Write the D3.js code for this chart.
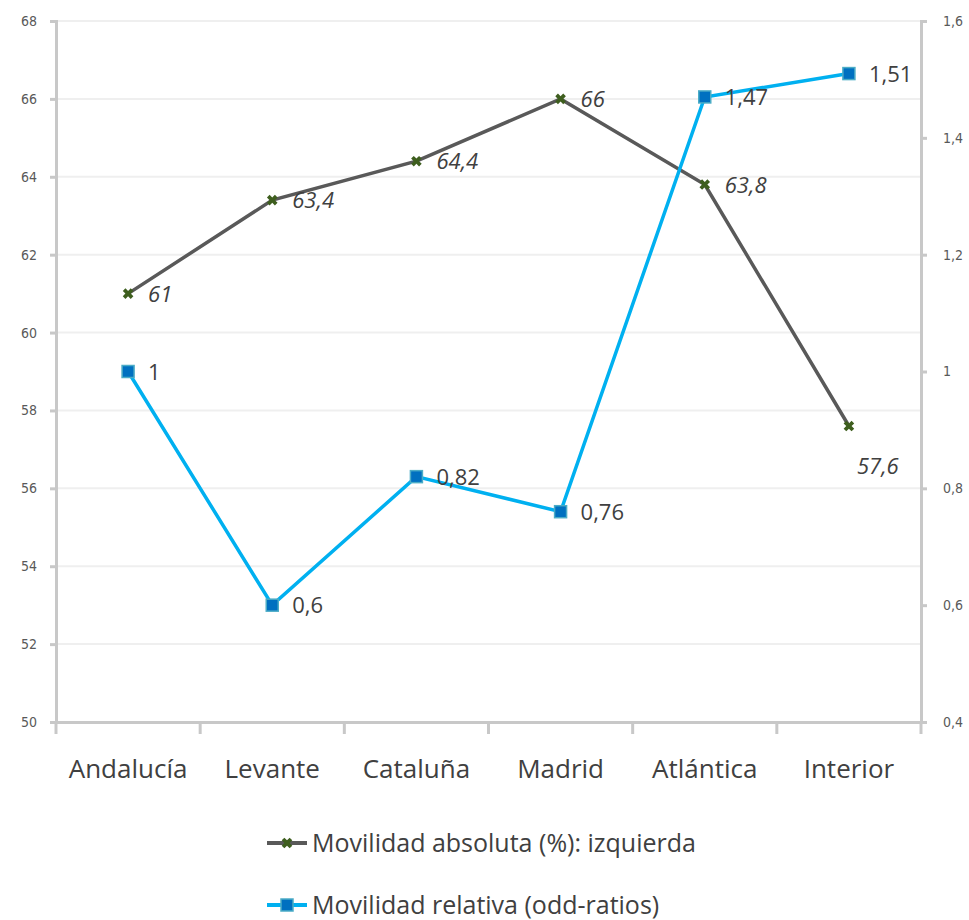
<!DOCTYPE html>
<html lang="es">
<head>
<meta charset="UTF-8">
<title>Movilidad</title>
<script src="https://cdnjs.cloudflare.com/ajax/libs/d3/7.8.5/d3.min.js"></script>
<style>
  body { margin: 0; background: #fff; }
  text { font-family: "Open Sans", "Liberation Sans", sans-serif; }
</style>
</head>
<body>
<div id="chart"></div>
<script>
var categories = ["Andalucía", "Levante", "Cataluña", "Madrid", "Atlántica", "Interior"];
var absoluta = [61, 63.4, 64.4, 66, 63.8, 57.6];
var relativa = [1, 0.6, 0.82, 0.76, 1.47, 1.51];
var leftTicks = [50, 52, 54, 56, 58, 60, 62, 64, 66, 68];
var rightTicks = [0.4, 0.6, 0.8, 1, 1.2, 1.4, 1.6];
var seriesNames = ["Movilidad absoluta (%): izquierda", "Movilidad relativa (odd-ratios)"];

var width = 969, height = 920;
var plotLeft = 56, plotRight = 921, plotTop = 21, plotBottom = 722;

var comma = function (v) { return String(+v.toFixed(2)).replace(".", ","); };

var svg = d3.select("#chart").append("svg")
    .attr("width", width)
    .attr("height", height);

var x = d3.scaleBand().domain(categories).range([plotLeft, plotRight]);
var yL = d3.scaleLinear().domain([50, 68]).range([plotBottom, plotTop]);
var yR = d3.scaleLinear().domain([0.4, 1.6]).range([plotBottom, plotTop]);

// gridlines
svg.append("g").selectAll("line")
    .data(leftTicks)
    .enter().append("line")
    .attr("x1", plotLeft).attr("x2", plotRight)
    .attr("y1", function (d) { return yL(d); })
    .attr("y2", function (d) { return yL(d); })
    .attr("stroke", "#efefef")
    .attr("stroke-width", 2);

// left axis
var gl = svg.append("g").attr("transform", "translate(" + plotLeft + ",0)")
    .call(d3.axisLeft(yL).tickValues(leftTicks).tickSize(6).tickPadding(13));
// right axis
var gr = svg.append("g").attr("transform", "translate(" + plotRight + ",0)")
    .call(d3.axisRight(yR).tickValues(rightTicks).tickSize(6).tickPadding(16).tickFormat(comma));
// bottom axis
var gb = svg.append("g").attr("transform", "translate(0," + plotBottom + ")")
    .call(d3.axisBottom(x).tickSize(0).tickPadding(38));

[gl, gr, gb].forEach(function (g) {
    g.select(".domain").attr("stroke", "#c8c8c8").attr("stroke-width", 3);
    g.selectAll(".tick line").attr("stroke", "#c8c8c8").attr("stroke-width", 3);
});
gl.selectAll("text").attr("font-size", 14).attr("fill", "#595959")
    .style("font-family", "'DejaVu Sans Condensed', sans-serif");
gr.selectAll("text").attr("font-size", 14).attr("fill", "#595959")
    .style("font-family", "'DejaVu Sans Condensed', sans-serif");
gb.selectAll("text").attr("font-size", 26).attr("fill", "#404040");

// category boundary ticks
svg.append("g").selectAll("line")
    .data(categories.concat(["end"]))
    .enter().append("line")
    .attr("x1", function (d, i) { return plotLeft + i * x.step(); })
    .attr("x2", function (d, i) { return plotLeft + i * x.step(); })
    .attr("y1", plotBottom).attr("y2", plotBottom + 12)
    .attr("stroke", "#c8c8c8").attr("stroke-width", 3);

var cx = function (i) { return x(categories[i]) + x.bandwidth() / 2; };

// absoluta line
var lineL = d3.line().x(function (d, i) { return cx(i); }).y(function (d) { return yL(d); });
svg.append("path").datum(absoluta)
    .attr("d", lineL).attr("fill", "none")
    .attr("stroke", "#595959").attr("stroke-width", 3.5);
svg.append("g").selectAll("path")
    .data(absoluta).enter().append("path")
    .attr("d", d3.symbol().type(d3.symbolCross).size(70))
    .attr("transform", function (d, i) { return "translate(" + cx(i) + "," + yL(d) + ") rotate(45)"; })
    .attr("fill", "#3e5e1e");
// last label (Interior) sits below its point, the rest to the right
svg.append("g").selectAll("text")
    .data(absoluta).enter().append("text")
    .attr("x", function (d, i) { return cx(i) + (i === absoluta.length - 1 ? 8 : 20); })
    .attr("y", function (d, i) { return yL(d) + (i === absoluta.length - 1 ? 48 : 8); })
    .attr("font-size", 22).attr("font-style", "italic").attr("fill", "#404040")
    .text(function (d) { return comma(d); });

// relativa line
var lineR = d3.line().x(function (d, i) { return cx(i); }).y(function (d) { return yR(d); });
svg.append("path").datum(relativa)
    .attr("d", lineR).attr("fill", "none")
    .attr("stroke", "#00b0f0").attr("stroke-width", 3.5);
svg.append("g").selectAll("rect")
    .data(relativa).enter().append("rect")
    .attr("x", function (d, i) { return cx(i) - 6; })
    .attr("y", function (d) { return yR(d) - 6; })
    .attr("width", 12).attr("height", 12)
    .attr("fill", "#0070c0").attr("stroke", "#4bacc6").attr("stroke-width", 1.5);
svg.append("g").selectAll("text")
    .data(relativa).enter().append("text")
    .attr("x", function (d, i) { return cx(i) + 20; })
    .attr("y", function (d) { return yR(d) + 8; })
    .attr("font-size", 22).attr("fill", "#404040")
    .text(function (d) { return comma(d); });

// legend
var legend = svg.append("g");
seriesNames.forEach(function (name, i) {
    var ly = 843 + i * 62;
    legend.append("line")
        .attr("x1", 267).attr("x2", 307).attr("y1", ly).attr("y2", ly)
        .attr("stroke", i === 0 ? "#595959" : "#00b0f0").attr("stroke-width", 4);
    if (i === 0) {
        legend.append("path")
            .attr("d", d3.symbol().type(d3.symbolCross).size(70))
            .attr("transform", "translate(287," + ly + ") rotate(45)")
            .attr("fill", "#3e5e1e");
    } else {
        legend.append("rect")
            .attr("x", 281).attr("y", ly - 6).attr("width", 12).attr("height", 12)
            .attr("fill", "#0070c0").attr("stroke", "#4bacc6").attr("stroke-width", 1.5);
    }
    legend.append("text")
        .attr("x", 312).attr("y", ly + 9)
        .attr("font-size", 25).attr("fill", "#404040")
        .text(name);
});
</script>
</body>
</html>
